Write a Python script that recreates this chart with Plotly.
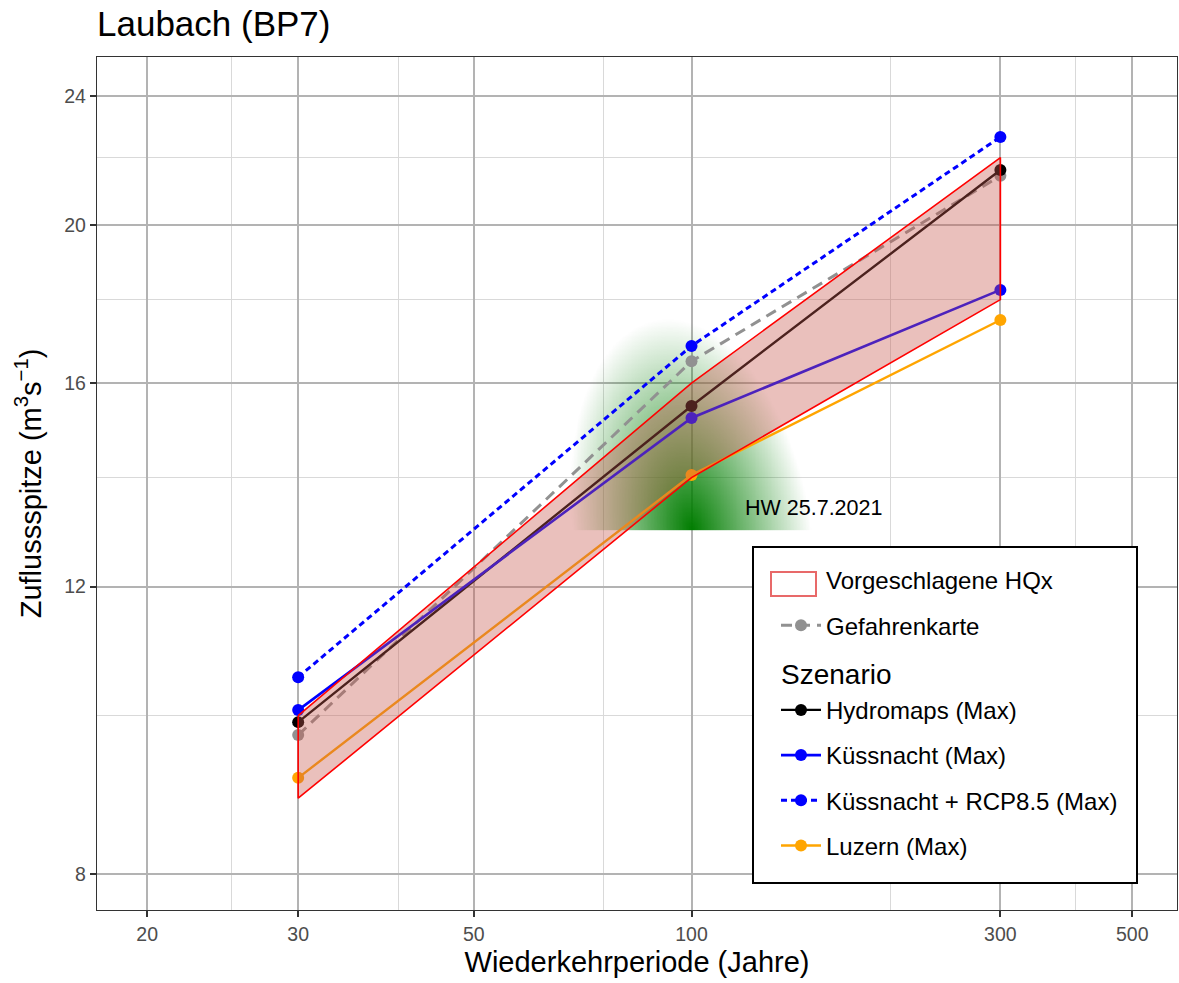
import math
import numpy as np
import plotly.graph_objects as go
from statistics import NormalDist

# ---------------- data ----------------
T_points = [30, 100, 300]
hydromaps = [9.91, 15.49, 21.62]
kuessnacht = [10.08, 15.23, 18.25]
kuessnacht_rcp = [10.56, 16.86, 22.65]
luzern = [9.16, 14.05, 17.49]
gefahrenkarte = [9.73, 16.50, 21.44]
hqx_lower = [8.9, 14.0, 18.0]
hqx_upper = [10.0, 16.0, 22.0]

hw_label = "HW 25.7.2021"
hw_T = 100          # return period of the event (centre of the gradient)
hw_Q = 13.0         # peak discharge of the event (m3/s)
hw_label_T = 119
hw_label_Q = 13.41

x_ticks = [20, 30, 50, 100, 300, 500]
x_minor = [25, 40, 75, 200, 400]
y_ticks = [8, 12, 16, 20, 24]
y_minor = [10, 14, 18, 22]
x_limits = [17.6, 598]
y_limits = [7.60, 25.36]

# ---------------- transforms ----------------
nd = NormalDist()


def tx(T):
    return nd.inv_cdf(1 - 1 / T)


def ty(Q):
    return math.log10(Q)


def TX(arr):
    return [tx(v) for v in arr]


def TY(arr):
    return [ty(v) for v in arr]


FONT = "Liberation Sans, Arial, sans-serif"

fig = go.Figure()

# green gradient for the flood event (radial fade from the event point)
q0 = tx(hw_T)
l0 = ty(hw_Q)
Rx, Ry, shear = 0.150, 0.130, 0.2
qs = np.linspace(q0 - 0.22, q0 + 0.18, 220)
ls = np.linspace(l0, l0 + 0.14, 180)
QQ, LL = np.meshgrid(qs, ls)
V = (LL - l0) / Ry
U = (QQ - q0) / Rx + shear * V
R = np.sqrt(U ** 2 + V ** 2)
Z = np.clip(1 - R, 0, 1)
fig.add_trace(go.Heatmap(
    x=qs, y=ls, z=Z, zmin=0, zmax=1, zsmooth="best", showscale=False,
    colorscale=[[0, "rgba(0,125,0,0)"], [1, "rgba(0,125,0,1)"]],
    hoverinfo="skip", showlegend=False,
))

series = [
    ("Gefahrenkarte", gefahrenkarte, "rgb(145,145,145)", "11px,7px", 3, 2, None),
    ("Hydromaps (Max)", hydromaps, "black", "solid", 2.4, 3, "Szenario"),
    ("Küssnacht (Max)", kuessnacht, "blue", "solid", 2.6, 4, None),
    ("Küssnacht + RCP8.5 (Max)", kuessnacht_rcp, "blue", "6px,4px", 3, 5, None),
    ("Luzern (Max)", luzern, "orange", "solid", 2.4, 6, None),
]
for name, vals, col, dash, lw, rank, gtitle in series:
    kw = {}
    if gtitle:
        kw["legendgrouptitle"] = dict(text=gtitle, font=dict(size=28, color="black", family=FONT))
    fig.add_trace(go.Scatter(
        x=TX(T_points), y=TY(vals), mode="lines+markers", name=name,
        line=dict(color=col, width=lw, dash=dash),
        marker=dict(color=col, size=12),
        legendgroup=name, legendrank=rank, **kw,
    ))

# proposed HQx ribbon (on top, translucent)
rib_T = T_points + T_points[::-1] + [T_points[0]]
rib_Q = hqx_upper + hqx_lower[::-1] + [hqx_upper[0]]
fig.add_trace(go.Scatter(
    x=TX(rib_T), y=TY(rib_Q), mode="lines", fill="toself",
    fillcolor="rgba(200,90,80,0.38)", line=dict(color="red", width=1.6),
    showlegend=False, hoverinfo="skip",
))
# legend entry for the ribbon (key drawn as a shape below)
fig.add_trace(go.Scatter(
    x=[None], y=[None], mode="lines", name="Vorgeschlagene HQx",
    line=dict(color="rgba(0,0,0,0)", width=0),
    legendgroup="hqx", legendrank=1,
))

fig.add_annotation(
    x=tx(hw_label_T), y=ty(hw_label_Q), text=hw_label, showarrow=False,
    xanchor="left", yanchor="middle", font=dict(size=21.5, color="black", family=FONT),
)


def px(xp):
    return (xp - 97) / 1080


def py(yp):
    return (910 - yp) / 853


# legend frame and fill key
fig.add_shape(type="rect", xref="paper", yref="paper",
              x0=px(753), x1=px(1137), y0=py(883), y1=py(547),
              fillcolor="white", line=dict(color="black", width=2), layer="above")
fig.add_shape(type="rect", xref="paper", yref="paper",
              x0=px(771), x1=px(816), y0=py(596), y1=py(572),
              fillcolor="white", line=dict(color="rgb(232,105,105)", width=2), layer="above")

axis_common = dict(
    showgrid=True, gridcolor="#b3b3b3", gridwidth=1.8,
    zeroline=False, showline=True, mirror=True, linecolor="#333333", linewidth=1.3,
    ticks="outside", ticklen=6, tickwidth=1.6, tickcolor="#333333",
    tickfont=dict(size=19.5, color="#4d4d4d", family=FONT),
)

fig.update_layout(
    width=1179, height=983,
    margin=dict(l=97, r=2, t=57, b=73),
    paper_bgcolor="white", plot_bgcolor="white",
    font=dict(family=FONT, color="black"),
    title=dict(text="Laubach (BP7)", x=0, xref="paper", xanchor="left",
               y=1 - 24 / 983, yref="container", yanchor="middle",
               font=dict(size=35, color="black", family=FONT)),
    xaxis=dict(
        range=[tx(x_limits[0]), tx(x_limits[1])],
        tickvals=TX(x_ticks), ticktext=[str(t) for t in x_ticks],
        minor=dict(tickvals=TX(x_minor), showgrid=True, gridcolor="#d9d9d9", gridwidth=1.4, ticks=""),
        title=dict(text="Wiederkehrperiode (Jahre)", font=dict(size=29, color="black", family=FONT), standoff=8),
        automargin=False,
        **axis_common,
    ),
    yaxis=dict(
        range=[ty(y_limits[0]), ty(y_limits[1])],
        tickvals=TY(y_ticks), ticktext=[str(t) for t in y_ticks],
        minor=dict(tickvals=TY(y_minor), showgrid=True, gridcolor="#d9d9d9", gridwidth=1.4, ticks=""),
        title=dict(text="Zuflussspitze (m<sup>3</sup>s<sup>\u22121</sup>)",
                   font=dict(size=29, color="black", family=FONT), standoff=14),
        automargin=False,
        **axis_common,
    ),
    legend=dict(
        x=px(776), y=py(558), xanchor="left", yanchor="top",
        bgcolor="rgba(0,0,0,0)", borderwidth=0,
        font=dict(size=24, color="black", family=FONT),
        traceorder="grouped", tracegroupgap=11, itemwidth=40,
    ),
)

fig.write_html("out.html")
